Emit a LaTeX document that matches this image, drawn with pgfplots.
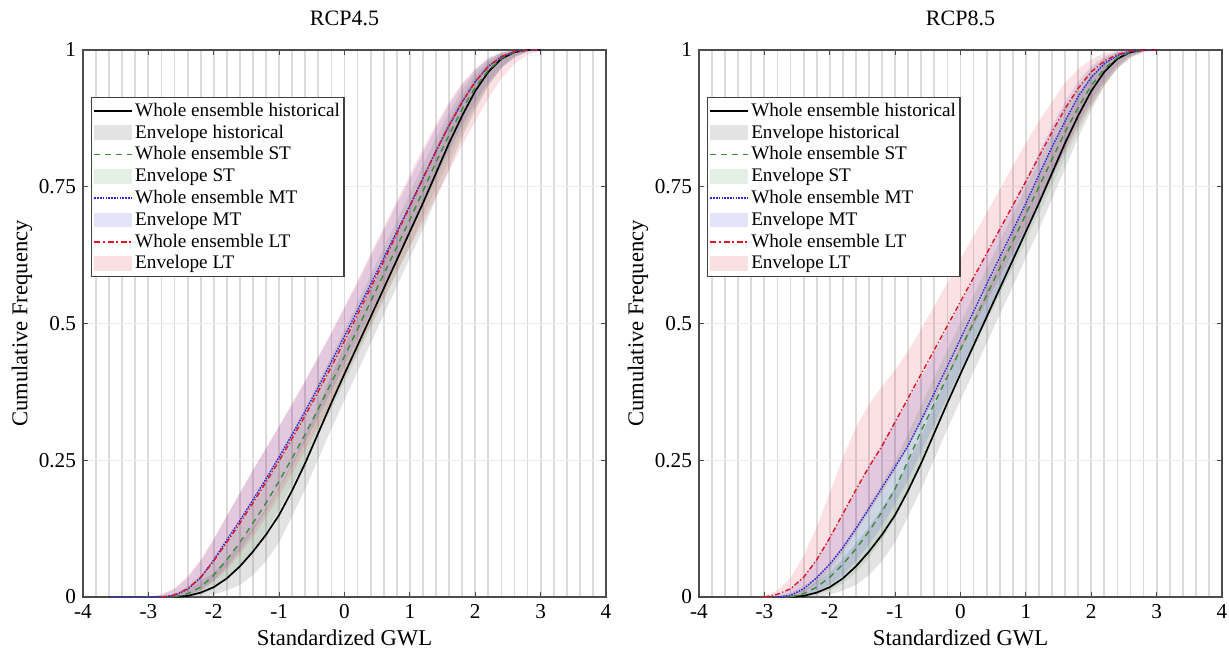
\documentclass[border=0pt]{standalone}
\usepackage{fontspec}
\setmainfont{Liberation Serif}
\usepackage{pgfplots}
\pgfplotsset{compat=1.18}
\usepackage{pgfplotstable}
\usepgfplotslibrary{fillbetween}

\definecolor{stgreen}{RGB}{60,140,60}
\definecolor{mtblue}{RGB}{40,40,220}
\definecolor{ltred}{RGB}{225,20,35}

% columns: x, curves h s m l, envelopes lo/hi for each
\pgfplotstableread{
x h s m l hlo hhi slo shi mlo mhi llo lhi
-3.6 0 0 0 0 0 0 0 0 0 0 0 0
-3.4 0 0 0 0 0 0 0 0 0 0 0 0
-3.2 0 0 0 0 0 0 0 0 0 0 0 0
-3.0 0 0 0 0 0 0 0 0 0 0 0 0
-2.8 0 0 0 0 0 0 0 0 0 0.004 0 0.005
-2.6 0 0 0.003 0.004 0 0.004 0 0.006 0 0.014 0 0.016
-2.4 0.002 0.006 0.014 0.015 0 0.012 0 0.02 0.003 0.035 0.003 0.038
-2.2 0.008 0.018 0.035 0.036 0 0.028 0.004 0.04 0.012 0.065 0.012 0.068
-2.0 0.018 0.04 0.068 0.066 0.004 0.045 0.015 0.068 0.03 0.105 0.028 0.106
-1.8 0.034 0.068 0.104 0.1 0.012 0.07 0.032 0.1 0.055 0.148 0.05 0.148
-1.6 0.056 0.1 0.14 0.135 0.022 0.098 0.055 0.138 0.085 0.19 0.078 0.19
-1.4 0.083 0.135 0.178 0.172 0.04 0.128 0.085 0.178 0.12 0.232 0.11 0.232
-1.2 0.114 0.172 0.216 0.21 0.066 0.162 0.12 0.218 0.158 0.272 0.146 0.272
-1.0 0.15 0.212 0.256 0.249 0.1 0.2 0.16 0.26 0.198 0.312 0.185 0.312
-0.8 0.195 0.254 0.297 0.29 0.148 0.245 0.205 0.302 0.24 0.352 0.226 0.354
-0.6 0.245 0.298 0.34 0.332 0.198 0.295 0.25 0.346 0.284 0.394 0.268 0.396
-0.4 0.3 0.344 0.384 0.376 0.252 0.35 0.296 0.392 0.33 0.438 0.312 0.44
-0.2 0.355 0.392 0.43 0.421 0.308 0.405 0.344 0.44 0.376 0.482 0.356 0.484
0.0 0.408 0.44 0.477 0.468 0.36 0.458 0.392 0.488 0.424 0.528 0.402 0.53
0.2 0.46 0.49 0.524 0.516 0.412 0.51 0.442 0.538 0.472 0.574 0.45 0.578
0.4 0.512 0.54 0.572 0.565 0.464 0.562 0.492 0.588 0.52 0.622 0.498 0.628
0.6 0.564 0.59 0.62 0.614 0.516 0.614 0.542 0.638 0.57 0.67 0.546 0.676
0.8 0.616 0.64 0.668 0.664 0.568 0.666 0.592 0.688 0.618 0.718 0.594 0.724
1.0 0.668 0.69 0.716 0.714 0.62 0.718 0.642 0.738 0.666 0.764 0.64 0.772
1.2 0.72 0.742 0.766 0.765 0.672 0.77 0.695 0.79 0.716 0.812 0.686 0.82
1.4 0.775 0.795 0.815 0.815 0.728 0.822 0.748 0.84 0.766 0.858 0.732 0.864
1.6 0.83 0.845 0.862 0.862 0.784 0.872 0.8 0.886 0.816 0.9 0.778 0.905
1.8 0.88 0.892 0.905 0.905 0.84 0.915 0.85 0.928 0.862 0.936 0.826 0.94
2.0 0.925 0.932 0.942 0.942 0.89 0.952 0.895 0.96 0.904 0.964 0.87 0.966
2.2 0.96 0.963 0.97 0.97 0.935 0.978 0.935 0.983 0.94 0.984 0.912 0.985
2.4 0.984 0.985 0.988 0.988 0.968 0.993 0.966 0.995 0.968 0.995 0.948 0.996
2.6 0.996 0.996 0.997 0.997 0.988 0.999 0.986 1 0.987 1 0.975 1
2.8 1 1 1 1 0.998 1 0.997 1 0.997 1 0.992 1
3.0 1 1 1 1 1 1 1 1 1 1 0.999 1
3.2 1 1 1 1 1 1 1 1 1 1 1 1
3.4 1 1 1 1 1 1 1 1 1 1 1 1
}\rcpfour

\pgfplotstableread{
x h s m l hlo hhi slo shi mlo mhi llo lhi
-3.6 0 0 0 0 0 0 0 0 0 0 0 0
-3.4 0 0 0 0 0 0 0 0 0 0 0 0
-3.2 0 0 0 0 0 0 0 0 0 0 0 0
-3.0 0 0 0 0 0 0 0 0 0 0 0 0.002
-2.8 0 0 0 0.005 0 0 0 0 0 0.004 0 0.012
-2.6 0 0 0.003 0.015 0 0.004 0 0.008 0 0.015 0 0.035
-2.4 0.002 0.006 0.015 0.036 0 0.012 0 0.02 0.002 0.038 0.008 0.075
-2.2 0.008 0.018 0.035 0.068 0 0.028 0.004 0.038 0.01 0.07 0.025 0.128
-2.0 0.018 0.036 0.06 0.108 0.004 0.045 0.012 0.062 0.022 0.11 0.05 0.19
-1.8 0.034 0.06 0.09 0.152 0.012 0.07 0.025 0.095 0.04 0.152 0.082 0.255
-1.6 0.056 0.088 0.125 0.196 0.022 0.098 0.045 0.13 0.065 0.196 0.118 0.31
-1.4 0.083 0.12 0.162 0.238 0.04 0.128 0.072 0.168 0.095 0.24 0.155 0.352
-1.2 0.114 0.156 0.2 0.276 0.066 0.162 0.105 0.208 0.13 0.282 0.192 0.385
-1.0 0.15 0.198 0.238 0.32 0.1 0.2 0.145 0.25 0.17 0.322 0.232 0.415
-0.8 0.195 0.25 0.277 0.364 0.148 0.245 0.195 0.3 0.215 0.36 0.275 0.45
-0.6 0.245 0.304 0.324 0.408 0.198 0.295 0.252 0.352 0.265 0.402 0.318 0.49
-0.4 0.3 0.354 0.373 0.452 0.252 0.35 0.304 0.402 0.315 0.446 0.362 0.532
-0.2 0.355 0.403 0.422 0.496 0.308 0.405 0.354 0.452 0.366 0.49 0.405 0.575
0.0 0.408 0.453 0.472 0.54 0.36 0.458 0.404 0.502 0.416 0.536 0.45 0.618
0.2 0.46 0.502 0.522 0.584 0.412 0.51 0.453 0.551 0.466 0.582 0.495 0.66
0.4 0.512 0.552 0.572 0.628 0.464 0.562 0.503 0.601 0.516 0.628 0.54 0.702
0.6 0.564 0.601 0.621 0.672 0.516 0.614 0.552 0.65 0.566 0.672 0.585 0.745
0.8 0.616 0.65 0.67 0.716 0.568 0.666 0.601 0.699 0.615 0.716 0.63 0.788
1.0 0.668 0.7 0.72 0.76 0.62 0.718 0.651 0.749 0.665 0.762 0.675 0.83
1.2 0.72 0.75 0.772 0.805 0.672 0.77 0.701 0.798 0.716 0.812 0.72 0.87
1.4 0.775 0.8 0.823 0.85 0.728 0.822 0.752 0.846 0.768 0.86 0.768 0.905
1.6 0.83 0.85 0.87 0.893 0.784 0.872 0.804 0.892 0.818 0.905 0.815 0.94
1.8 0.88 0.895 0.915 0.93 0.84 0.915 0.852 0.932 0.866 0.942 0.86 0.965
2.0 0.925 0.935 0.95 0.96 0.89 0.952 0.896 0.964 0.908 0.97 0.9 0.983
2.2 0.96 0.966 0.975 0.98 0.935 0.978 0.935 0.985 0.944 0.988 0.937 0.994
2.4 0.984 0.986 0.99 0.992 0.968 0.993 0.966 0.996 0.972 0.997 0.966 0.999
2.6 0.996 0.996 0.997 0.998 0.988 0.999 0.986 1 0.99 1 0.986 1
2.8 1 1 1 1 0.998 1 0.997 1 0.998 1 0.996 1
3.0 1 1 1 1 1 1 1 1 1 1 1 1
3.2 1 1 1 1 1 1 1 1 1 1 1 1
3.4 1 1 1 1 1 1 1 1 1 1 1 1
}\rcpeight

\tikzset{
  histline/.style={draw=black, line width=0.85pt},
  stline/.style={draw=stgreen, line width=0.7pt, dash pattern=on 3pt off 2.5pt},
  mtline/.style={draw=mtblue, line width=0.7pt, dash pattern=on 0.8pt off 0.6pt},
  ltline/.style={draw=ltred, line width=0.7pt, dash pattern=on 2.5pt off 1.2pt on 0.6pt off 1.2pt},
  histenv/.style={fill=gray, fill opacity=0.22},
  stenv/.style={fill=stgreen, fill opacity=0.13},
  mtenv/.style={fill=mtblue, fill opacity=0.13},
  ltenv/.style={fill=ltred, fill opacity=0.13},
}

\pgfplotsset{
  gwl/.style={
    scale only axis, width=261.5pt, height=273.5pt, anchor=south west,
    xmin=-4, xmax=4, ymin=0, ymax=1,
    xtick={-4,-3,-2,-1,0,1,2,3,4},
    xticklabels={-4,-3,-2,-1,0,1,2,3,4},
    ytick={0,0.25,0.5,0.75,1},
    yticklabels={0,0.25,0.5,0.75,1},
    minor x tick num=4, minor tick length=0pt, major tick length=2.5pt,
    xminorgrids=true, xmajorgrids=true, ymajorgrids=true,
    grid style={gray!28, line width=0.9pt},
    every axis y grid/.style={gray!14, line width=0.6pt},
    axis line style={black!70, line width=0.6pt},
    tick style={black!70, line width=0.5pt},
    tick label style={font=\fontsize{10.6}{12}\selectfont},
    label style={font=\fontsize{11.3}{13}\selectfont},
    title style={font=\fontsize{11}{13}\selectfont, at={(axis description cs:0.5,1.0585)}, anchor=center, yshift=-6pt},
    xlabel={Standardized GWL},
    ylabel={Cumulative Frequency},
    xlabel style={at={(axis description cs:0.5,-0.075)}, anchor=center},
    ylabel style={at={(axis description cs:-0.1166,0.5)}, anchor=center},
    legend cell align=left,
    legend style={font=\fontsize{9.6}{11}\selectfont, at={(0.015,0.914)}, anchor=north west,
      draw=black!75, line width=0.6pt, inner xsep=1pt, inner ysep=1.2pt, row sep=0pt,
      nodes={inner xsep=1pt, inner ysep=0.4pt, text height=7.7pt, text depth=2.4pt}},
  },
}

% envelope: table, lo column, hi column, fill style
\newcommand{\envelope}[4]{%
  \addplot[draw=none, name path=lo#2, forget plot] table[x=x, y=#2] {#1};
  \addplot[draw=none, name path=hi#3, forget plot] table[x=x, y=#3] {#1};
  \addplot[#4, draw=none, forget plot] fill between[of=lo#2 and hi#3];
}

\newcommand{\gwllegend}{%
  \addlegendimage{legend image code/.code={\draw[histline] (0pt,0pt) -- (19pt,0pt);}}
  \addlegendentry{Whole ensemble historical}
  \addlegendimage{legend image code/.code={\fill[histenv, draw=none] (0pt,-3.7pt) rectangle (19pt,3.7pt);}}
  \addlegendentry{Envelope historical}
  \addlegendimage{legend image code/.code={\draw[stline, line width=0.85pt] (0pt,0pt) -- (19pt,0pt);}}
  \addlegendentry{Whole ensemble ST}
  \addlegendimage{legend image code/.code={\fill[stenv, draw=none] (0pt,-3.7pt) rectangle (19pt,3.7pt);}}
  \addlegendentry{Envelope ST}
  \addlegendimage{legend image code/.code={\draw[mtline, line width=0.85pt] (0pt,0pt) -- (19pt,0pt);}}
  \addlegendentry{Whole ensemble MT}
  \addlegendimage{legend image code/.code={\fill[mtenv, draw=none] (0pt,-3.7pt) rectangle (19pt,3.7pt);}}
  \addlegendentry{Envelope MT}
  \addlegendimage{legend image code/.code={\draw[ltline, line width=0.9pt, dash pattern=on 3pt off 1.3pt on 1pt off 1.3pt] (0pt,0pt) -- (19pt,0pt);}}
  \addlegendentry{Whole ensemble LT}
  \addlegendimage{legend image code/.code={\fill[ltenv, draw=none] (0pt,-3.7pt) rectangle (19pt,3.7pt);}}
  \addlegendentry{Envelope LT}
}

\begin{document}
\begin{tikzpicture}
\begin{axis}[gwl, at={(41.5pt,31pt)}, title={RCP4.5}]
  \envelope{\rcpfour}{hlo}{hhi}{histenv}
  \envelope{\rcpfour}{slo}{shi}{stenv}
  \envelope{\rcpfour}{mlo}{mhi}{mtenv}
  \envelope{\rcpfour}{llo}{lhi}{ltenv}
  \addplot[histline, restrict x to domain=-2.6:3, forget plot] table[x=x, y=h] {\rcpfour};
  \addplot[stline, restrict x to domain=-2.6:3, forget plot] table[x=x, y=s] {\rcpfour};
  \addplot[mtline, restrict x to domain=-3.6:3, forget plot] table[x=x, y=m] {\rcpfour};
  \addplot[ltline, restrict x to domain=-2.8:3, forget plot] table[x=x, y=l] {\rcpfour};
  \gwllegend
\end{axis}

\begin{axis}[gwl, at={(349.5pt,31pt)}, title={RCP8.5}]
  \envelope{\rcpeight}{hlo}{hhi}{histenv}
  \envelope{\rcpeight}{slo}{shi}{stenv}
  \envelope{\rcpeight}{mlo}{mhi}{mtenv}
  \envelope{\rcpeight}{llo}{lhi}{ltenv}
  \addplot[histline, restrict x to domain=-2.6:3, forget plot] table[x=x, y=h] {\rcpeight};
  \addplot[stline, restrict x to domain=-2.6:3, forget plot] table[x=x, y=s] {\rcpeight};
  \addplot[mtline, restrict x to domain=-2.8:3, forget plot] table[x=x, y=m] {\rcpeight};
  \addplot[ltline, restrict x to domain=-3.0:3, forget plot] table[x=x, y=l] {\rcpeight};
  \gwllegend
\end{axis}
\pgfresetboundingbox
\path[use as bounding box] (0,0) rectangle (614.5pt,329.5pt);
\end{tikzpicture}
\end{document}
